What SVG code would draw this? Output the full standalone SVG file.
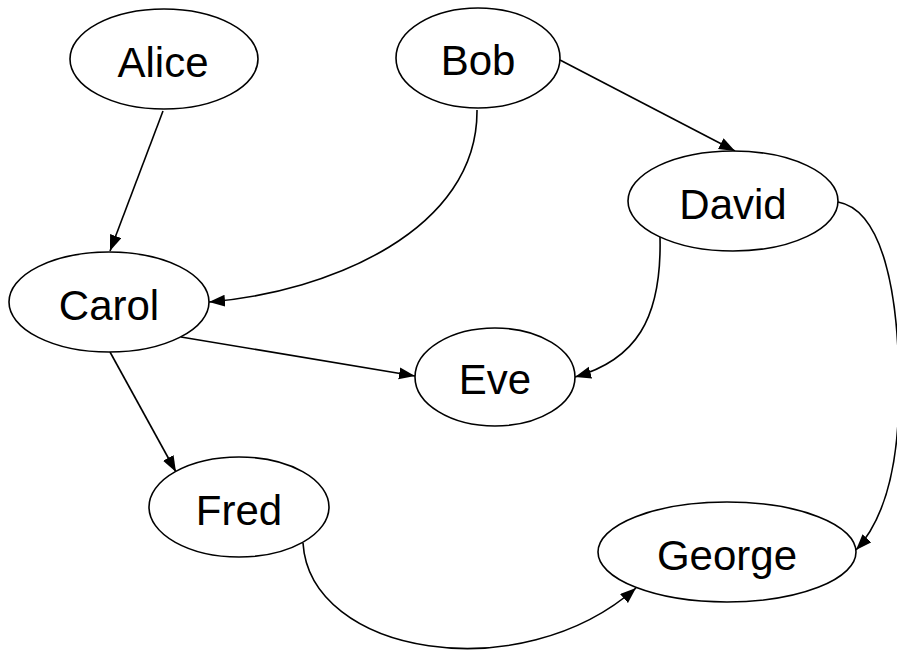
<svg xmlns="http://www.w3.org/2000/svg" width="897" height="651" viewBox="0 0 897 651">
<defs>
<style>
.node ellipse{fill:#fff;stroke:#000;stroke-width:1.6}
.node text{font-family:"Liberation Sans",Arial,sans-serif;font-size:42px;fill:#000;text-anchor:middle}
.edges path{fill:none;stroke:#000;stroke-width:1.6;marker-end:url(#arrow)}
</style>
<marker id="arrow" markerUnits="userSpaceOnUse" markerWidth="18" markerHeight="14" refX="16" refY="6" orient="auto">
<path d="M0,0 L16,6 L0,12 z" fill="#000"/>
</marker>
</defs>
<rect width="897" height="651" fill="#fff"/>
<g class="edges">
<path d="M163,111 L110,251"/>
<path d="M477,110 C478,230 330,292 209,302"/>
<path d="M560,60 L735,151"/>
<path d="M660,237 C662,320 635,360 575,377"/>
<path d="M838,202 C882,210 899,290 899,390 C899,470 884,520 856,550"/>
<path d="M181,337 L415,376"/>
<path d="M110,352 L176,472"/>
<path d="M303,543 C310,655 520,690 636,588"/>
</g>
<g id="alice" class="node"><ellipse cx="164" cy="59" rx="94" ry="50"/><text x="163" y="77">Alice</text></g>
<g id="bob" class="node"><ellipse cx="478" cy="58" rx="82" ry="50"/><text x="478" y="75">Bob</text></g>
<g id="david" class="node"><ellipse cx="733" cy="201" rx="105" ry="50"/><text x="733" y="219">David</text></g>
<g id="carol" class="node"><ellipse cx="109" cy="302" rx="100" ry="50"/><text x="109" y="320">Carol</text></g>
<g id="eve" class="node"><ellipse cx="495" cy="377" rx="80" ry="49"/><text x="495" y="394">Eve</text></g>
<g id="fred" class="node"><ellipse cx="239" cy="507" rx="90" ry="50"/><text x="239" y="525">Fred</text></g>
<g id="george" class="node"><ellipse cx="727" cy="552" rx="129" ry="50"/><text x="727" y="570">George</text></g>
</svg>
